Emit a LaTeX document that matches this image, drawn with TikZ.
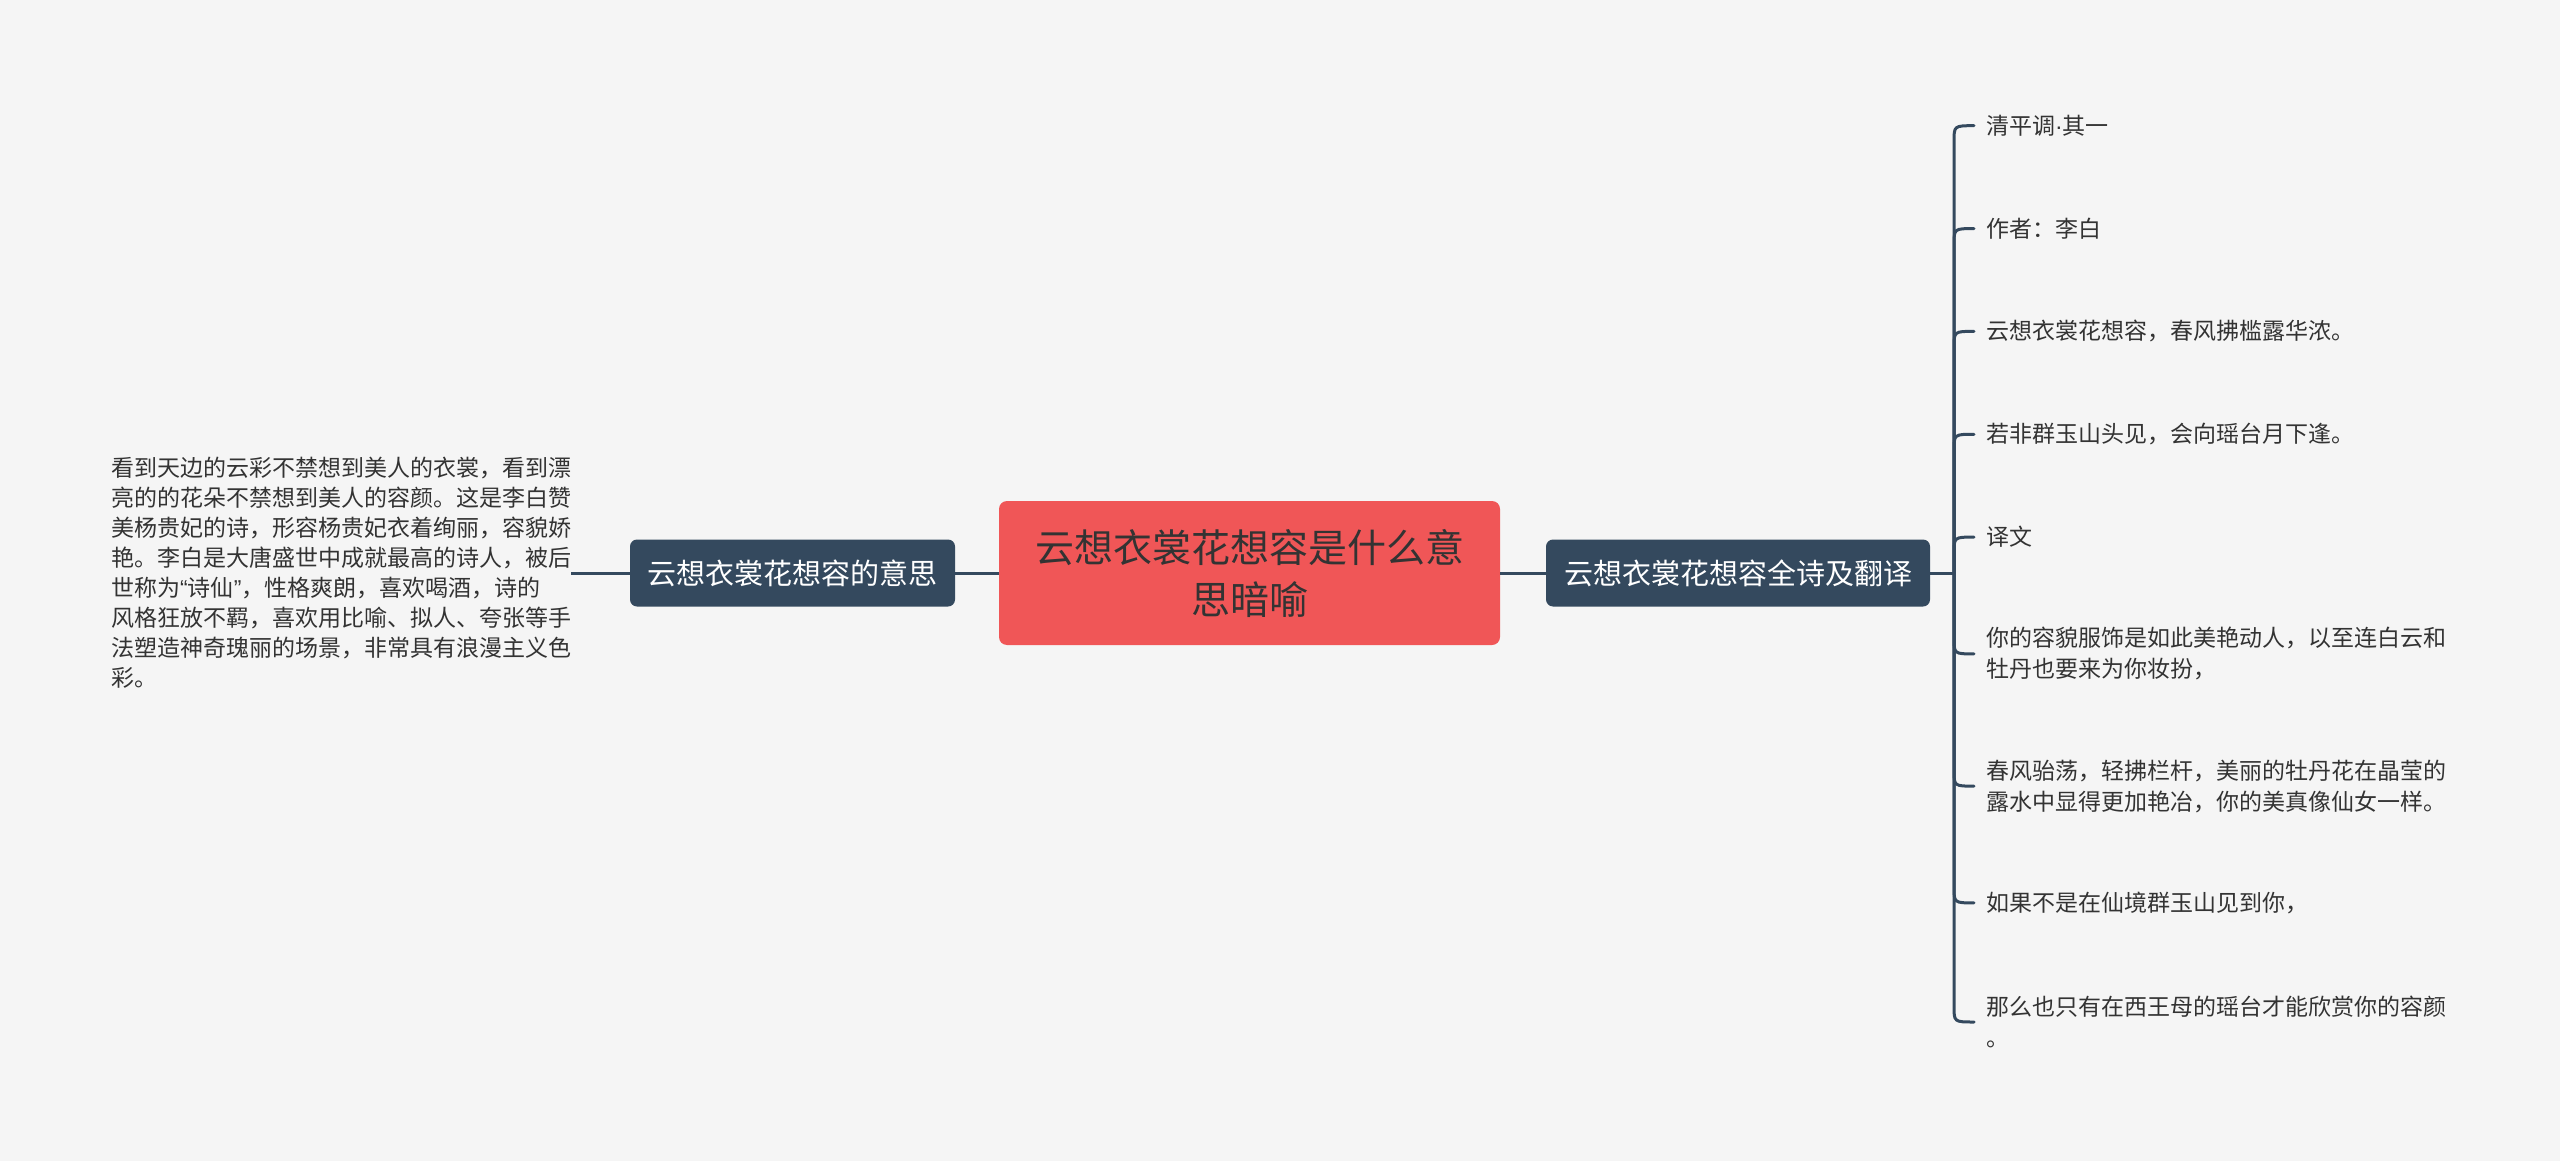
\documentclass[tikz,border=0pt]{standalone}
\usepackage{fontspec}
\newfontfamily\cjk{Noto Sans CJK SC}
\newfontfamily\lat{Liberation Sans}
\definecolor{bg}{HTML}{F5F5F5}
\definecolor{rootred}{HTML}{F05657}
\definecolor{navy}{HTML}{34495E}
\definecolor{txt}{HTML}{333333}
\tikzset{
  rootbox/.style={fill=rootred, rounded corners=8pt, minimum width=501pt, minimum height=144pt,
    align=center, text=txt, inner sep=0pt, font=\cjk\fontsize{39}{52}\selectfont},
  branchbox/.style={fill=navy, rounded corners=7pt, minimum height=67pt, text=white,
    inner sep=0pt, font=\cjk\fontsize{29}{36}\selectfont},
  leafbox/.style={anchor=west, inner xsep=12pt, inner ysep=0pt, align=left, text=txt,
    font=\cjk\fontsize{23}{31}\selectfont},
  conn/.style={draw=navy, line width=3pt},
}
\begin{document}
\begin{tikzpicture}[x=1pt,y=-1pt]
\fill[bg] (0,0) rectangle (2560,1161);
\useasboundingbox (0,0) rectangle (2560,1161);

\node[rootbox] (root) at (1249.5,573) {云想衣裳花想容是什么意\\思暗喻};
\node[branchbox, minimum width=384pt] (R) at (1738,573) {云想衣裳花想容全诗及翻译};
\node[branchbox, minimum width=325pt] (L) at (792.5,573) {云想衣裳花想容的意思};

\node[anchor=west, inner sep=0pt, align=left, text=txt, font=\cjk\fontsize{23}{30}\selectfont] (LT) at (111,573) {%
看到天边的云彩不禁想到美人的衣裳，看到漂\\
亮的的花朵不禁想到美人的容颜。这是李白赞\\
美杨贵妃的诗，形容杨贵妃衣着绚丽，容貌娇\\
艳。李白是大唐盛世中成就最高的诗人，被后\\
世称为{\lat “}诗仙{\lat ”}，性格爽朗，喜欢喝酒，诗的\\
风格狂放不羁，喜欢用比喻、拟人、夸张等手\\
法塑造神奇瑰丽的场景，非常具有浪漫主义色\\
彩。};

\draw[conn] (LT.east) -- (L.west);
\draw[conn] (L.east) -- (root.west);
\draw[conn] (root.east) -- (R.west);

\coordinate (J) at (1954,573);
\draw[conn] (R.east) -- (J);

\node[leafbox] (l1) at (1974,125.7) {清平调{\lat ·}其一};
\node[leafbox] (l2) at (1974,228.6) {作者：李白};
\node[leafbox] (l3) at (1974,331.4) {云想衣裳花想容，春风拂槛露华浓。};
\node[leafbox] (l4) at (1974,434.3) {若非群玉山头见，会向瑶台月下逢。};
\node[leafbox] (l5) at (1974,537.1) {译文};
\node[leafbox] (l6) at (1974,653.9) {你的容貌服饰是如此美艳动人，以至连白云和\\牡丹也要来为你妆扮，};
\node[leafbox] (l7) at (1974,786.1) {春风骀荡，轻拂栏杆，美丽的牡丹花在晶莹的\\露水中显得更加艳冶，你的美真像仙女一样。};
\node[leafbox] (l8) at (1974,902.9) {如果不是在仙境群玉山见到你，};
\node[leafbox] (l9) at (1974,1022) {那么也只有在西王母的瑶台才能欣赏你的容颜\\。};

\foreach \n in {l1,l2,l3,l4,l5} {
  \draw[conn, line cap=round] (J) -- ([yshift=-16pt]\n.west -| J) .. controls (\n.west -| J) .. (\n.west);
}
\foreach \n in {l6,l7,l8,l9} {
  \draw[conn, line cap=round] (J) -- ([yshift=16pt]\n.west -| J) .. controls (\n.west -| J) .. (\n.west);
}
\end{tikzpicture}
\end{document}
